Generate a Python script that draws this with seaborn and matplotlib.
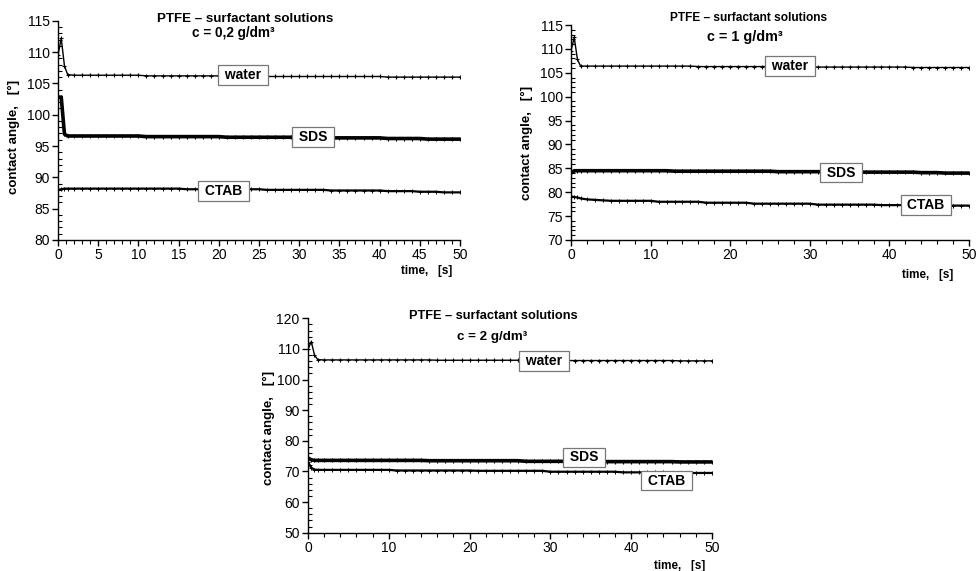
import matplotlib
matplotlib.use("Agg")
import matplotlib.pyplot as plt
import seaborn as sns
import pandas as pd
from matplotlib.ticker import MultipleLocator

sns.set_style("ticks")
FAM = ["Liberation Sans", "DejaVu Sans"]
plt.rcParams["font.family"] = FAM
plt.rcParams["text.color"] = "black"
plt.rcParams["xtick.color"] = "black"
plt.rcParams["ytick.color"] = "black"
plt.rcParams["xtick.labelcolor"] = "black"
plt.rcParams["ytick.labelcolor"] = "black"

# sampling times [s]
time_s = [0, 0.4, 0.8, 1.2, 2, 3, 4, 5, 6, 7, 8, 9, 10, 11, 12, 13, 14, 15, 16, 17,
          18, 19, 20, 21, 22, 23, 24, 25, 26, 27, 28, 29, 30, 31, 32, 33, 34, 35,
          36, 37, 38, 39, 40, 41, 42, 43, 44, 45, 46, 47, 48, 49, 50]

# c = 0.2 g/dm3
p1_water = [109.5, 112.2, 107.8, 106.4,
            106.3, 106.3, 106.3, 106.3, 106.3, 106.3, 106.3, 106.3, 106.3,
            106.2, 106.2, 106.2, 106.2, 106.2, 106.2, 106.2, 106.2, 106.2, 106.2,
            106.2, 106.2, 106.2, 106.2, 106.2,
            106.1, 106.1, 106.1, 106.1, 106.1, 106.1, 106.1, 106.1, 106.1, 106.1,
            106.1, 106.1, 106.1, 106.1, 106.1,
            106.0, 106.0, 106.0, 106.0, 106.0, 106.0, 106.0, 106.0, 106.0, 106.0]
p1_sds = [102.8, 102.8, 96.9, 96.6,
          96.6, 96.6, 96.6, 96.6, 96.6, 96.6, 96.6, 96.6, 96.6,
          96.5, 96.5, 96.5, 96.5, 96.5, 96.5, 96.5, 96.5, 96.5, 96.5,
          96.4, 96.4, 96.4, 96.4, 96.4, 96.4, 96.4, 96.4, 96.4, 96.4,
          96.3, 96.3, 96.3, 96.3, 96.3, 96.3, 96.3, 96.3, 96.3, 96.3,
          96.2, 96.2, 96.2, 96.2, 96.2,
          96.1, 96.1, 96.1, 96.1, 96.1]
p1_ctab = [88.0, 88.1, 88.2, 88.2,
           88.2, 88.2, 88.2, 88.2, 88.2, 88.2, 88.2, 88.2, 88.2, 88.2, 88.2, 88.2, 88.2, 88.2,
           88.1, 88.1, 88.1, 88.1, 88.1, 88.1, 88.1, 88.1, 88.1, 88.1,
           88.0, 88.0, 88.0, 88.0, 88.0, 88.0, 88.0, 88.0,
           87.9, 87.9, 87.9, 87.9, 87.9, 87.9, 87.9,
           87.8, 87.8, 87.8, 87.8,
           87.7, 87.7, 87.7,
           87.6, 87.6, 87.6]

# c = 1 g/dm3
p2_water = [109.6, 112.4, 107.8, 106.4,
            106.4, 106.4, 106.4, 106.4, 106.4, 106.4, 106.4, 106.4, 106.4, 106.4, 106.4,
            106.4, 106.4, 106.4,
            106.3, 106.3, 106.3, 106.3, 106.3, 106.3, 106.3, 106.3, 106.3, 106.3, 106.3,
            106.3, 106.3, 106.3, 106.3,
            106.2, 106.2, 106.2, 106.2, 106.2, 106.2, 106.2, 106.2, 106.2, 106.2, 106.2, 106.2,
            106.1, 106.1, 106.1, 106.1, 106.1, 106.1, 106.1, 106.1]
p2_sds = [84.0, 84.5, 84.5, 84.5,
          84.5, 84.5, 84.5, 84.5, 84.5, 84.5, 84.5, 84.5, 84.5, 84.5, 84.5,
          84.4, 84.4, 84.4, 84.4, 84.4, 84.4, 84.4, 84.4, 84.4, 84.4, 84.4, 84.4, 84.4,
          84.3, 84.3, 84.3, 84.3, 84.3, 84.3, 84.3, 84.3, 84.3, 84.3,
          84.2, 84.2, 84.2, 84.2, 84.2, 84.2, 84.2, 84.2,
          84.1, 84.1, 84.1,
          84.0, 84.0, 84.0, 84.0]
p2_ctab = [79.1, 79.0, 78.9, 78.7,
           78.5, 78.4, 78.3,
           78.2, 78.2, 78.2, 78.2, 78.2, 78.2,
           78.0, 78.0, 78.0, 78.0, 78.0, 78.0,
           77.8, 77.8, 77.8, 77.8, 77.8, 77.8,
           77.6, 77.6, 77.6, 77.6, 77.6, 77.6, 77.6, 77.6,
           77.4, 77.4, 77.4, 77.4, 77.4, 77.4, 77.4, 77.4,
           77.3, 77.3, 77.3, 77.3, 77.3, 77.3,
           77.2, 77.2, 77.2, 77.2, 77.2, 77.2]

# c = 2 g/dm3
p3_water = [109.9, 112.4, 108.0, 106.5,
            106.4, 106.4, 106.4, 106.4, 106.4, 106.4, 106.4, 106.4, 106.4, 106.4, 106.4,
            106.4, 106.4, 106.4,
            106.3, 106.3, 106.3, 106.3, 106.3, 106.3, 106.3, 106.3, 106.3, 106.3, 106.3,
            106.3, 106.3, 106.3, 106.3,
            106.2, 106.2, 106.2, 106.2, 106.2, 106.2, 106.2, 106.2, 106.2, 106.2, 106.2,
            106.2, 106.2, 106.2, 106.2,
            106.1, 106.1, 106.1, 106.1, 106.1]
p3_sds = [74.4, 73.8, 73.6, 73.6,
          73.6, 73.6, 73.6, 73.6, 73.6, 73.6, 73.6, 73.6, 73.6, 73.6, 73.6, 73.6, 73.6,
          73.5, 73.5, 73.5, 73.5, 73.5, 73.5, 73.5, 73.5, 73.5, 73.5, 73.5, 73.5,
          73.3, 73.3, 73.3, 73.3, 73.3, 73.3, 73.3, 73.3, 73.3, 73.3,
          73.2, 73.2, 73.2, 73.2, 73.2, 73.2, 73.2, 73.2, 73.2,
          73.1, 73.1, 73.1, 73.1, 73.1]
p3_ctab = [73.0, 71.2, 70.6, 70.5,
           70.5, 70.5, 70.5, 70.5, 70.5, 70.5, 70.5, 70.5, 70.5,
           70.3, 70.3, 70.3, 70.3, 70.3, 70.3, 70.3, 70.3, 70.3, 70.3,
           70.2, 70.2, 70.2, 70.2, 70.2, 70.2, 70.2, 70.2, 70.2,
           69.9, 69.9, 69.9, 69.9, 69.9, 69.9, 69.9, 69.9, 69.9,
           69.7, 69.7, 69.7, 69.7, 69.7, 69.7,
           69.5, 69.5, 69.5, 69.5, 69.5, 69.5]

series_names = ["water", "SDS", "CTAB"]
concentrations = ["c = 0,2 g/dm³", "c = 1 g/dm³", "c = 2 g/dm³"]
title_top = "PTFE – surfactant solutions"
ylabel = "contact angle,   [°]"
xlabel = "time,   [s]"

panels = [
    dict(data=[p1_water, p1_sds, p1_ctab], rect=[0.0592, 0.5797, 0.4102, 0.3840],
         ylim=(80, 115), ymaj=5, ymin=1, xmaj=5, xmin=1,
         boxes=[(23.0, 106.3), (31.7, 96.4), (20.6, 87.8)],
         t1=(0.465, 1.008, 9.6), t2=(0.435, 0.944, 9.8),
         yl=(-0.11, 0.47), xl=(0.98, -0.14)),
    dict(data=[p2_water, p2_sds, p2_ctab], rect=[0.5827, 0.5797, 0.4061, 0.3765],
         ylim=(70, 115), ymaj=5, ymin=1, xmaj=10, xmin=2,
         boxes=[(27.5, 106.4), (33.9, 84.1), (44.6, 77.3)],
         t1=(0.445, 1.033, 8.6), t2=(0.437, 0.944, 10.4),
         yl=(-0.11, 0.45), xl=(0.96, -0.163)),
    dict(data=[p3_water, p3_sds, p3_ctab], rect=[0.3143, 0.0671, 0.4122, 0.3755],
         ylim=(50, 120), ymaj=10, ymin=2, xmaj=10, xmin=2,
         boxes=[(29.2, 106.1), (34.2, 74.6), (44.4, 67.0)],
         t1=(0.458, 1.011, 9.2), t2=(0.455, 0.913, 9.6),
         yl=(-0.097, 0.49), xl=(0.983, -0.155)),
]

styles = {
    "water": dict(lw=1.0, marker="+", ms=3.5, mew=0.8),
    "SDS": dict(lw=2.6, marker="|", ms=3.5, mew=0.8),
    "CTAB": dict(lw=1.6, marker="+", ms=3.0, mew=0.7),
}

fig = plt.figure(figsize=(9.8, 5.71), dpi=100)

for p, conc in zip(panels, concentrations):
    ax = fig.add_axes(p["rect"])
    for name, vals in zip(series_names, p["data"]):
        df = pd.DataFrame({"time": time_s, "angle": vals})
        st = styles[name]
        sns.lineplot(data=df, x="time", y="angle", ax=ax, color="black",
                     lw=st["lw"], marker=st["marker"], markersize=st["ms"],
                     markeredgewidth=st["mew"], markeredgecolor="black",
                     estimator=None, sort=False)
    for name, (bx, by) in zip(series_names, p["boxes"]):
        ax.text(bx, by, " " + name + " ", ha="center", va="center",
                fontsize=10, fontweight="bold", family=FAM, zorder=5,
                bbox=dict(boxstyle="square,pad=0.2", fc="white", ec="#777777", lw=0.9))
    ax.set_xlim(0, 50)
    ax.set_ylim(*p["ylim"])
    ax.xaxis.set_major_locator(MultipleLocator(p["xmaj"]))
    ax.xaxis.set_minor_locator(MultipleLocator(p["xmin"]))
    ax.yaxis.set_major_locator(MultipleLocator(p["ymaj"]))
    ax.yaxis.set_minor_locator(MultipleLocator(p["ymin"]))
    ax.tick_params(axis="both", which="major", direction="out", length=4, width=1,
                   labelsize=10, color="black", labelcolor="black", pad=2)
    ax.tick_params(axis="y", which="minor", direction="in", length=3, width=0.8)
    ax.tick_params(axis="x", which="minor", direction="out", length=3, width=0.8)
    sns.despine(ax=ax)
    for s in ("left", "bottom"):
        ax.spines[s].set_color("black")
        ax.spines[s].set_linewidth(1.0)
    ax.set_xlabel("")
    ax.set_ylabel("")
    ax.text(p["t1"][0], p["t1"][1], title_top, transform=ax.transAxes, ha="center",
            va="center", fontsize=p["t1"][2], fontweight="bold", family=FAM)
    ax.text(p["t2"][0], p["t2"][1], conc, transform=ax.transAxes, ha="center",
            va="center", fontsize=p["t2"][2], fontweight="bold", family=FAM)
    ax.text(p["yl"][0], p["yl"][1], ylabel, transform=ax.transAxes, ha="center",
            va="center", rotation=90, fontsize=9.5, fontweight="bold", family=FAM)
    ax.text(p["xl"][0], p["xl"][1], xlabel, transform=ax.transAxes, ha="right",
            va="center", fontsize=8.4, fontweight="bold", family=FAM)

fig.savefig("out.png", dpi=100)
